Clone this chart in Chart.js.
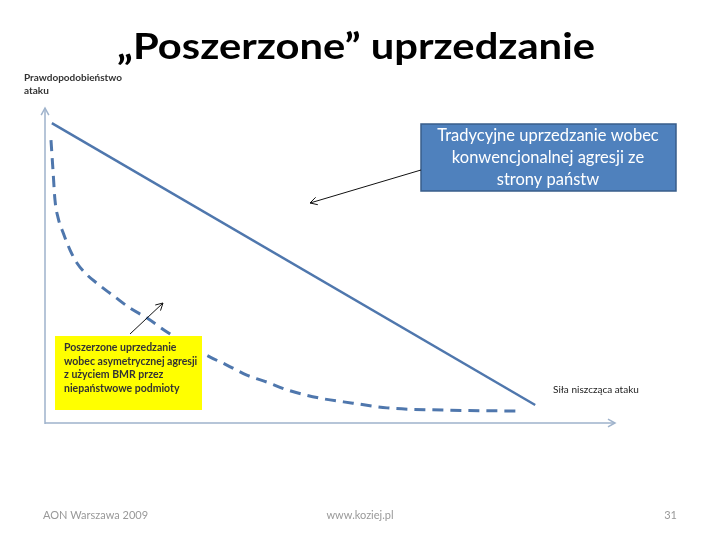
<!DOCTYPE html>
<html>
<head>
<meta charset="utf-8">
<script src="https://cdn.jsdelivr.net/npm/chart.js@4/dist/chart.umd.min.js"></script>
<style>
  html, body { margin: 0; padding: 0; background: #fff; }
  #wrap { width: 720px; height: 540px; }
</style>
</head>
<body>
<div id="wrap"><canvas id="chart" width="720" height="540"></canvas></div>
<script>
// Curve data (arbitrary 0-100 units)
const solidX = [1.2, 86.0];
const solidY = [95.2, 5.7];

const dashedX = [1.05, 1.4, 1.75, 2.3, 3.2, 4.4, 5.6, 7.4, 9.1, 12.3, 14.9, 17.9, 21.4, 25.4, 28.9, 31.9, 35.4, 38.9, 42.5, 48.2, 54.0, 60.0, 69.8, 82.8];
const dashedY = [89.8, 80.3, 70.8, 65.1, 60.3, 54.9, 50.8, 47.0, 44.4, 40.0, 36.5, 33.3, 28.9, 24.4, 21.0, 18.4, 15.2, 13.0, 10.5, 7.9, 6.3, 4.8, 4.1, 3.8];

const titleText = '\u201EPoszerzone\u201D uprzedzanie';
const yAxisLabel = ['Prawdopodobieństwo', 'ataku'];
const xAxisLabel = 'Siła niszcząca ataku';
const blueNote = ['Tradycyjne uprzedzanie wobec', 'konwencjonalnej agresji ze', 'strony państw'];
const yellowNote = ['Poszerzone uprzedzanie', 'wobec asymetrycznej agresji', 'z użyciem BMR przez', 'niepaństwowe podmioty'];
const footer = ['AON Warszawa 2009', 'www.koziej.pl', '31'];

const toPoints = (xs, ys) => xs.map((x, i) => ({ x: x, y: ys[i] }));

const lineColor = '#4f77ad';
const axisColor = '#9fb3cc';

function arrowHead(ctx, x1, y1, x2, y2, size) {
  const a = Math.atan2(y2 - y1, x2 - x1);
  ctx.beginPath();
  ctx.moveTo(x2 - size * Math.cos(a - 0.5), y2 - size * Math.sin(a - 0.5));
  ctx.lineTo(x2, y2);
  ctx.lineTo(x2 - size * Math.cos(a + 0.5), y2 - size * Math.sin(a + 0.5));
  ctx.stroke();
}

function fitText(ctx, text, x, y, width, weight, size) {
  ctx.font = weight + ' ' + size + 'px Lato, "Open Sans", sans-serif';
  const w = ctx.measureText(text).width;
  ctx.save();
  ctx.translate(x, y);
  ctx.scale(width / w, 1);
  ctx.fillText(text, 0, 0);
  ctx.restore();
}

// axes with arrows, boxes, notes and slide text
const slidePlugin = {
  id: 'slide',
  beforeDatasetsDraw(chart) {
    const ctx = chart.ctx;
    const a = chart.chartArea;
    ctx.save();
    ctx.strokeStyle = axisColor;
    ctx.lineWidth = 1.5;
    ctx.beginPath();
    ctx.moveTo(a.left, a.bottom + 1);
    ctx.lineTo(a.left, a.top);
    ctx.moveTo(a.left, a.bottom);
    ctx.lineTo(a.right, a.bottom);
    ctx.stroke();
    arrowHead(ctx, a.left, a.bottom, a.left, a.top, 8);
    arrowHead(ctx, a.left, a.bottom, a.right, a.bottom, 8);
    ctx.restore();
  },
  afterDraw(chart) {
    const ctx = chart.ctx;
    ctx.save();
    ctx.textBaseline = 'middle';

    // title
    ctx.fillStyle = '#000';
    ctx.textAlign = 'left';
    fitText(ctx, titleText, 117, 47, 478, 'bold', 37);

    // axis labels
    ctx.fillStyle = '#333';
    ctx.font = 'bold 10px Lato, sans-serif';
    ctx.fillText(yAxisLabel[0], 24, 78);
    ctx.fillText(yAxisLabel[1], 24, 91);
    ctx.font = '10px Lato, sans-serif';
    ctx.fillStyle = '#222';
    ctx.fillText(xAxisLabel, 553, 390);

    // blue note box
    ctx.fillStyle = '#4f81bd';
    ctx.fillRect(421, 124, 255, 67);
    ctx.strokeStyle = '#385d8a';
    ctx.lineWidth = 1.5;
    ctx.strokeRect(421, 124, 255, 67);
    ctx.fillStyle = '#fff';
    ctx.textAlign = 'center';
    ctx.font = '16.5px Lato, "Open Sans", sans-serif';
    ctx.fillText(blueNote[0], 548, 136);
    ctx.fillText(blueNote[1], 548, 158);
    ctx.fillText(blueNote[2], 548, 180);

    // arrow from blue box to solid line
    ctx.strokeStyle = '#111';
    ctx.lineWidth = 1;
    ctx.beginPath();
    ctx.moveTo(421, 170);
    ctx.lineTo(310, 203);
    ctx.stroke();
    arrowHead(ctx, 421, 170, 310, 203, 8);

    // yellow note box
    ctx.fillStyle = '#ffff00';
    ctx.fillRect(55, 336, 147, 74);
    ctx.fillStyle = '#333';
    ctx.textAlign = 'left';
    ctx.font = 'bold 10.5px Lato, sans-serif';
    yellowNote.forEach((t, i) => ctx.fillText(t, 64, 348 + i * 13.5));

    // arrow from yellow box to dashed curve
    ctx.strokeStyle = '#111';
    ctx.beginPath();
    ctx.moveTo(130, 334);
    ctx.lineTo(163, 303);
    ctx.stroke();
    arrowHead(ctx, 130, 334, 163, 303, 8);

    // footer
    ctx.fillStyle = '#999';
    ctx.font = '11px Lato, sans-serif';
    ctx.textAlign = 'left';
    ctx.fillText(footer[0], 43, 515);
    ctx.textAlign = 'center';
    ctx.fillText(footer[1], 360, 515);
    ctx.textAlign = 'right';
    ctx.fillText(footer[2], 677, 515);
    ctx.restore();
  }
};

const ctx = document.getElementById('chart').getContext('2d');
const chart = new Chart(ctx, {
  type: 'scatter',
  data: {
    datasets: [{
      label: 'Tradycyjne',
      data: toPoints(solidX, solidY),
      showLine: true,
      borderColor: lineColor,
      borderWidth: 2.5,
      pointRadius: 0
    }, {
      label: 'Poszerzone',
      data: toPoints(dashedX, dashedY),
      showLine: true,
      borderColor: lineColor,
      borderWidth: 3,
      borderDash: [11, 7],
      cubicInterpolationMode: 'monotone',
      pointRadius: 0
    }]
  },
  options: {
    responsive: false,
    animation: false,
    layout: { padding: { left: 45, right: 105, top: 108, bottom: 117 } },
    scales: {
      x: { display: false, min: 0, max: 100 },
      y: { display: false, min: 0, max: 100 }
    },
    plugins: {
      legend: { display: false },
      tooltip: { enabled: false }
    }
  },
  plugins: [slidePlugin]
});
</script>
</body>
</html>
